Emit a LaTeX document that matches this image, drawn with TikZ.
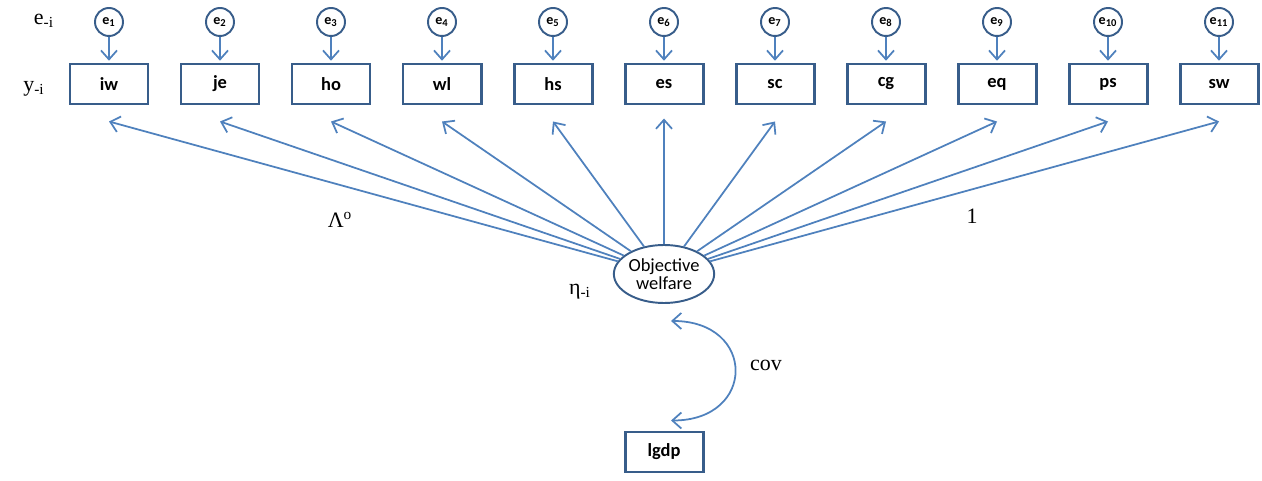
\documentclass[tikz,border=0pt]{standalone}
\usepackage{fontspec}
\setmainfont{Liberation Serif}
\newfontfamily\carl{Carlito}
\usetikzlibrary{arrows.meta,positioning,shapes.geometric}
\definecolor{lineblue}{RGB}{79,129,189}
\definecolor{boxblue}{RGB}{56,93,138}

\begin{document}
\begin{tikzpicture}[node distance=2.22cm,on grid,
    >={Straight Barb[length=1.8mm,width=3.2mm]},
    obs/.style={draw=boxblue,line width=1.7pt,minimum width=1.56cm,minimum height=0.8cm,
      inner sep=0pt,font=\carl\bfseries\fontsize{10.5}{12}\selectfont},
    err/.style={circle,draw=boxblue,line width=1.1pt,minimum size=0.56cm,inner sep=0pt,
      font=\carl\bfseries\fontsize{8}{9}\selectfont},
    lat/.style={ellipse,draw=boxblue,line width=1.1pt,minimum width=2cm,minimum height=1.16cm,
      inner sep=0pt,align=center,font=\carl\fontsize{10.5}{12}\selectfont},
    lbl/.style={font=\fontsize{12.5}{14}\selectfont},
    link/.style={->,draw=lineblue,line width=1pt}]
  \useasboundingbox (-2.18,1.68) rectangle (23.06,-7.94);
  % observed indicators
  \node[obs] (iw) {iw};
  \node[obs] [right=of iw] (je) {je};
  \node[obs] [right=of je] (ho) {ho};
  \node[obs] [right=of ho] (wl) {wl};
  \node[obs] [right=of wl] (hs) {hs};
  \node[obs] [right=of hs] (es) {es};
  \node[obs] [right=of es] (sc) {sc};
  \node[obs] [right=of sc] (cg) {cg};
  \node[obs] [right=of cg] (eq) {eq};
  \node[obs] [right=of eq] (ps) {ps};
  \node[obs] [right=of ps] (sw) {sw};
  % error terms
  \node[err] [above=1.24cm of iw] (e1) {e\textsubscript{1}};
  \node[err] [above=1.24cm of je] (e2) {e\textsubscript{2}};
  \node[err] [above=1.24cm of ho] (e3) {e\textsubscript{3}};
  \node[err] [above=1.24cm of wl] (e4) {e\textsubscript{4}};
  \node[err] [above=1.24cm of hs] (e5) {e\textsubscript{5}};
  \node[err] [above=1.24cm of es] (e6) {e\textsubscript{6}};
  \node[err] [above=1.24cm of sc] (e7) {e\textsubscript{7}};
  \node[err] [above=1.24cm of cg] (e8) {e\textsubscript{8}};
  \node[err] [above=1.24cm of eq] (e9) {e\textsubscript{9}};
  \node[err] [above=1.24cm of ps] (e10) {e\textsubscript{10}};
  \node[err] [above=1.24cm of sw] (e11) {e\textsubscript{11}};
  % latent factor and covariate
  \node[lat] [below=3.8cm of es] (ow) {Objective\\[-2pt]welfare};
  \node[obs] [below=7.36cm of es] (lgdp) {lgdp};
  % labels
  \node[lbl] [above left=1.26cm and 1.3cm of iw] (elab) {e\textsubscript{-i}};
  \node[lbl] [below left=0.1cm and 1.5cm of iw] (ylab) {y\textsubscript{-i}};
  \node[lbl] [below right=2.72cm and 4.62cm of iw] (lam) {Λ\textsuperscript{o}};
  \node[lbl] [below right=2.64cm and 17.26cm of iw] (one) {1};
  \node[lbl] [below left=0.36cm and 1.68cm of ow] (eta) {η\textsubscript{-i}};
  \node[lbl] [below right=1.82cm and 2.04cm of ow] (cov) {cov};
  \path[link,shorten >=1pt]
    (e1) edge (iw) (e2) edge (je) (e3) edge (ho) (e4) edge (wl)
    (e5) edge (hs) (e6) edge (es) (e7) edge (sc) (e8) edge (cg)
    (e9) edge (eq) (e10) edge (ps) (e11) edge (sw);
  \path[link]
    (ow) edge ([yshift=-0.32cm]iw.south)
    (ow) edge ([yshift=-0.32cm]je.south)
    (ow) edge ([yshift=-0.32cm]ho.south)
    (ow) edge ([yshift=-0.32cm]wl.south)
    (ow) edge ([yshift=-0.32cm]hs.south)
    (ow) edge ([yshift=-0.26cm]es.south)
    (ow) edge ([yshift=-0.32cm]sc.south)
    (ow) edge ([yshift=-0.32cm]cg.south)
    (ow) edge ([yshift=-0.32cm]eq.south)
    (ow) edge ([yshift=-0.32cm]ps.south)
    (ow) edge ([yshift=-0.32cm]sw.south);
  \draw[link,<->] ([xshift=0.14cm,yshift=-0.34cm]ow.south)
    to[out=0,in=0,looseness=2.2] ([xshift=0.14cm,yshift=0.2cm]lgdp.north);
\end{tikzpicture}
\end{document}
